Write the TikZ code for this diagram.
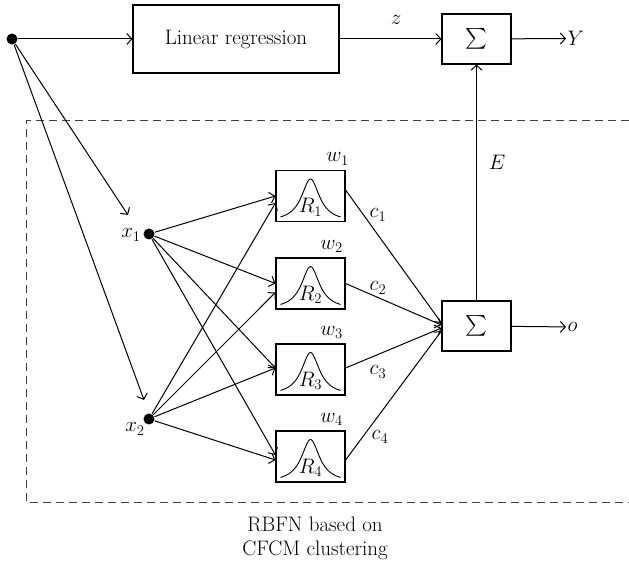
\RequirePackage{fix-cm}
\documentclass[tikz,border=0pt]{standalone}
\usepackage{amsmath}
\usepackage{fontspec}
\usetikzlibrary{arrows.meta}
\begin{document}
\begin{tikzpicture}[x=1pt,y=1pt,
  font=\fontsize{21}{25}\selectfont,
  line width=1pt,
  arr/.style={-{Straight Barb[length=5pt,width=11pt]}},
  sumbox/.style={draw, line width=1.1pt, minimum width=69pt, minimum height=50pt, inner sep=0pt},
  rbox/.style={draw, line width=1.1pt, minimum width=69pt, minimum height=51pt, inner sep=0pt},
  lrbox/.style={draw, line width=1.1pt, minimum width=206pt, minimum height=68pt, inner sep=0pt},
  dot/.style={circle, fill, inner sep=0pt, minimum size=11pt},
  lab/.style={inner sep=0pt, anchor=base},
  bell/.style={line width=0.9pt},
  frame/.style={dash pattern=on 8pt off 5pt, draw=black!75, line width=1pt}
]
\useasboundingbox (0,0) rectangle (629,565);

% dashed frame (right side lies outside the picture)
\draw[frame] (629,444) -- (26,444) -- (26,63) -- (629,63);

% top row
\node[dot] (in) at (12,526) {};
\node[lrbox] (lr) at (236,526) {Linear regression};
\node[sumbox] (s1) at (476.5,526) {$\sum$};
\node[anchor=west, inner sep=1pt] (Y) at (566,526.5) {$Y$};
\node[lab] (z) at (396,540) {$z$};

% inputs
\node[dot] (x1) at (149,331) {};
\node[dot] (x2) at (149,146) {};
\node[lab] (lx1) at (131,327) {$x_1$};
\node[lab] (lx2) at (135,133) {$x_2$};
\coordinate (t1) at (128,350);
\coordinate (t2) at (144,165);

% RBF units
\node[rbox] (R1) at (310.5,369) {};
\node[rbox] (R2) at (310.5,281.5) {};
\node[rbox] (R3) at (310.5,195.5) {};
\node[rbox] (R4) at (310.5,108.5) {};
\foreach \i in {1,...,4}{
  \draw[bell, shift={(R\i.south)}]
    plot[domain=-30:30, samples=81, smooth] (\x, {43/(1+(\x/11)^2)});
  \node[lab] (lR\i) at ([yshift=-17pt]R\i.center) {$R_{\i}$};
}
\node[lab] (w1) at ([xshift=27pt,yshift=8pt]R1.north) {$w_1$};
\node[lab] (w2) at ([xshift=21pt,yshift=8pt]R2.north) {$w_2$};
\node[lab] (w3) at ([xshift=21pt,yshift=8pt]R3.north) {$w_3$};
\node[lab] (w4) at ([xshift=21pt,yshift=8pt]R4.north) {$w_4$};

% output sum
\node[sumbox] (s2) at (476.5,239) {$\sum$};
\node[anchor=west, inner sep=1pt] (o) at (566,238) {$o$};

\node[lab] (c1) at (378,347) {$c_1$};
\node[lab] (c2) at (378,274) {$c_2$};
\node[lab] (c3) at (378,190) {$c_3$};
\node[lab] (c4) at (380,125) {$c_4$};
\node[lab] (E) at (497,395) {$E$};

% caption
\node[lab] (cap1) at (315,34) {RBFN based on};
\node[lab] (cap2) at (315,10) {CFCM clustering};

% connectors
\draw[arr] (in) -- (lr);
\draw[arr] (lr) -- (s1);
\draw[arr] (s1) -- (Y);
\draw[arr] (in) -- (t1);
\draw[arr] (in) -- (t2);

\draw[arr] (x1) -- (R1.west);
\draw[arr] (x1) -- (R2.west);
\draw[arr] (x1) -- ([yshift=1.5pt]R3.west);
\draw[arr] (x1) -- ([yshift=1.5pt]R4.west);
\draw[arr] (x2) -- ([yshift=-7pt]R1.west);
\draw[arr] (x2) -- ([yshift=-9pt]R2.west);
\draw[arr] (x2) -- ([yshift=1.5pt]R3.west);
\draw[arr] (x2) -- ([yshift=-3.5pt]R4.west);

\draw[arr] ([yshift=6pt]R1.east) -- ([yshift=3pt]s2.west);
\draw[arr] (R2.east) -- ([yshift=1pt]s2.west);
\draw[arr] ([yshift=1.5pt]R3.east) -- ([yshift=-2pt]s2.west);
\draw[arr] ([yshift=-3.5pt]R4.east) -- ([yshift=-5pt]s2.west);

\draw[arr] (s2) -- (o);
\draw[arr] (s2.north) -- (s1.south);
\end{tikzpicture}
\end{document}
